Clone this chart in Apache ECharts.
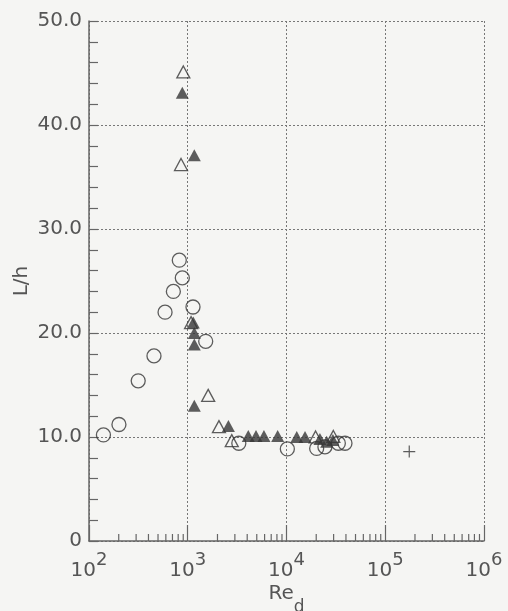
<!DOCTYPE html>
<html>
<head>
<meta charset="utf-8">
<script src="https://cdn.jsdelivr.net/npm/echarts@6/dist/echarts.min.js"></script>
<style>
  html, body { margin: 0; padding: 0; background: #f5f5f3; }
  #chart { width: 508px; height: 611px; }
</style>
</head>
<body>
<div id="chart"></div>
<script>
// open circles
var reCircle = [140, 201, 315, 455, 589, 715, 821, 881, 1130, 1520, 3290, 10200, 20200, 24500, 33500, 39100];
var lhCircle = [10.2, 11.2, 15.4, 17.8, 22.0, 24.0, 27.0, 25.3, 22.5, 19.2, 9.4, 8.85, 8.9, 9.05, 9.4, 9.4];
// open triangles
var reOpenTri = [902, 855, 1080, 1610, 2070, 2790, 19700, 29800];
var lhOpenTri = [45.1, 36.2, 21.0, 14.0, 11.0, 9.65, 10.0, 10.05];
// filled triangles
var reFillTri = [881, 1165, 1138, 1165, 1165, 1165, 2580, 4100, 4910, 5910, 8140, 12700, 15400, 21800, 25500, 29500];
var lhFillTri = [43.1, 37.1, 21.0, 20.0, 18.9, 13.0, 11.05, 10.1, 10.1, 10.1, 10.1, 10.0, 10.0, 9.8, 9.55, 9.7];
// plus
var rePlus = [175000];
var lhPlus = [8.6];
// minor ticks on log axis
var minorRe = [];
for (var d = 100; d < 1e6; d *= 10) {
    for (var k = 2; k <= 9; k++) minorRe.push(k * d);
}

var FONT = 'DejaVu Sans';
var INK = '#555';
var MARK = '#363636';

function pairs(xs, ys) {
    return xs.map(function (x, i) { return [x, ys[i]]; });
}

var myChart = echarts.init(document.getElementById('chart'));
var option = {
    backgroundColor: '#f5f5f3',
    animation: false,
    grid: { left: 89, right: 24, top: 21, bottom: 70, containLabel: false, outerBoundsMode: 'none' },
    xAxis: {
        type: 'log',
        logBase: 10,
        min: 100,
        max: 1e6,
        name: '{a|Re}{s|d}',
        nameLocation: 'middle',
        nameGap: 30,
        nameMoveOverlap: false,
        nameTextStyle: {
            rich: {
                a: { fontFamily: FONT, fontSize: 20, color: INK },
                s: { fontFamily: FONT, fontSize: 17, color: INK, padding: [28, 0, 0, 0] }
            }
        },
        axisLine: { lineStyle: { color: '#666', width: 1.5 } },
        axisTick: { inside: true, length: 16, lineStyle: { color: '#666', width: 1.2 } },
        axisLabel: {
            margin: 10,
            formatter: function (v) {
                return '{b|10}{e|' + Math.round(Math.log10(v)) + '}';
            },
            rich: {
                b: { fontFamily: FONT, fontSize: 20, color: INK },
                e: { fontFamily: FONT, fontSize: 18, color: INK, padding: [0, 0, 22, 0] }
            }
        },
        splitLine: { show: true, lineStyle: { color: '#777', type: [2, 2], width: 1 } }
    },
    yAxis: {
        type: 'value',
        min: 0,
        max: 50,
        interval: 10,
        name: 'L/h',
        nameLocation: 'middle',
        nameGap: 57,
        nameMoveOverlap: false,
        nameTextStyle: { fontFamily: FONT, fontSize: 20, color: INK },
        axisLine: { show: true, lineStyle: { color: '#666', width: 1.5 } },
        axisTick: { show: true, inside: true, length: 9, lineStyle: { color: '#666', width: 1.2 } },
        minorTick: { show: true, splitNumber: 5, length: 9, lineStyle: { color: '#666', width: 1.2 } },
        axisLabel: {
            margin: 7,
            fontFamily: FONT,
            fontSize: 20,
            color: INK,
            formatter: function (v) { return v === 0 ? '0' : v.toFixed(1); }
        },
        splitLine: { show: true, lineStyle: { color: '#777', type: [2, 2], width: 1 } }
    },
    series: [
        {
            type: 'custom',
            silent: true,
            data: minorRe.map(function (r) { return [r, 0]; }),
            renderItem: function (params, api) {
                var p = api.coord([api.value(0), 0]);
                return {
                    type: 'line',
                    shape: { x1: p[0], y1: p[1], x2: p[0], y2: p[1] - 7 },
                    style: { stroke: '#666', lineWidth: 1.2 }
                };
            }
        },
        {
            type: 'scatter',
            data: pairs(reCircle, lhCircle),
            symbol: 'circle',
            symbolSize: 14,
            itemStyle: { color: 'transparent', borderColor: MARK, borderWidth: 1.3 }
        },
        {
            type: 'scatter',
            data: pairs(reOpenTri, lhOpenTri),
            symbol: 'triangle',
            symbolSize: [13, 12],
            itemStyle: { color: 'transparent', borderColor: MARK, borderWidth: 1.3 }
        },
        {
            type: 'scatter',
            data: pairs(reFillTri, lhFillTri),
            symbol: 'triangle',
            symbolSize: [13, 12],
            itemStyle: { color: MARK }
        },
        {
            type: 'scatter',
            data: pairs(rePlus, lhPlus),
            symbol: 'path://M0,4.5H10V5.5H0Z M4.5,0H5.5V10H4.5Z',
            symbolSize: 12,
            itemStyle: { color: MARK }
        }
    ]
};
myChart.setOption(option);
</script>
</body>
</html>
